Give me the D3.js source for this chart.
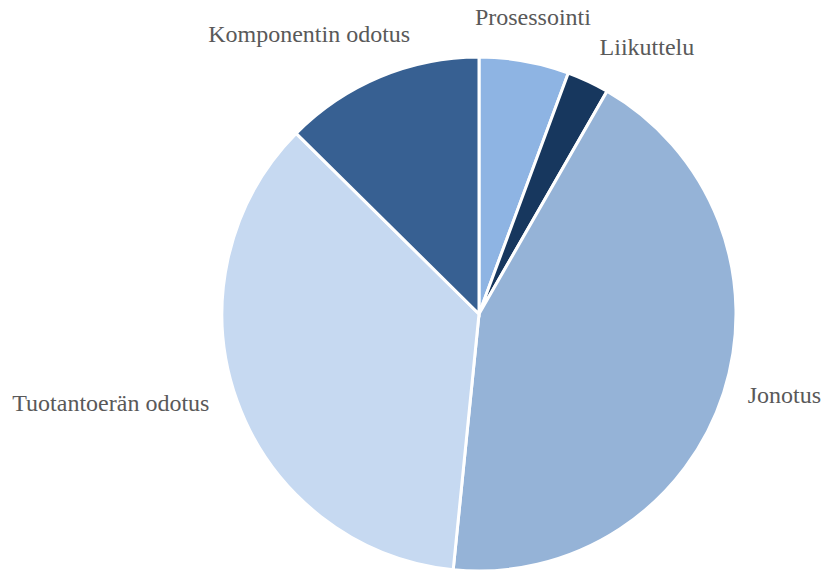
<!DOCTYPE html>
<html>
<head>
<meta charset="utf-8">
<script src="https://cdn.jsdelivr.net/npm/d3@7/dist/d3.min.js"></script>
<style>
  html, body { margin: 0; padding: 0; background: #ffffff; }
  svg { display: block; }
  .label { font-family: "Liberation Serif", "Times New Roman", Times, "DejaVu Serif", serif; }
</style>
</head>
<body>
<svg id="chart" width="824" height="571"></svg>
<script>
// Share of lead time by activity (%)
const categories = ["Prosessointi", "Liikuttelu", "Jonotus", "Tuotantoerän odotus", "Komponentin odotus"];
const values = [5.65, 2.65, 43.3, 35.8, 12.6];
const colors = ["#8EB4E3", "#17375E", "#95B3D7", "#C6D9F1", "#376092"];

const width = 824, height = 571;
const cx = 479, cy = 314, radius = 257;

// Fine adjustments of label placement, keyed by category
const labelNudge = {
  "Prosessointi": [5, -16],
  "Liikuttelu": [3, -8],
  "Jonotus": [5, 4],
  "Tuotantoerän odotus": [-9, 3],
  "Komponentin odotus": [38, -16]
};

const data = categories.map((c, i) => ({ name: c, value: values[i], color: colors[i] }));

const svg = d3.select("#chart");
const g = svg.append("g").attr("transform", `translate(${cx},${cy})`);

const pie = d3.pie().value(d => d.value).sort(null);
const arc = d3.arc().innerRadius(0).outerRadius(radius);
const arcs = pie(data);

g.selectAll("path.slice")
  .data(arcs)
  .join("path")
  .attr("class", "slice")
  .attr("d", arc)
  .attr("fill", d => d.data.color)
  .attr("stroke", "#ffffff")
  .attr("stroke-width", 3)
  .attr("stroke-linejoin", "miter");

const labelR = radius + 20;
g.selectAll("text.label")
  .data(arcs)
  .join("text")
  .attr("class", "label")
  .each(function(d) {
    const a = (d.startAngle + d.endAngle) / 2;
    const s = Math.sin(a);
    const x = labelR * s;
    const y = -labelR * Math.cos(a);
    const n = labelNudge[d.data.name] || [0, 0];
    const anchor = s > 0.3 ? "start" : (s < -0.3 ? "end" : "middle");
    d3.select(this)
      .attr("x", x + n[0])
      .attr("y", y + n[1])
      .attr("text-anchor", anchor);
  })
  .attr("font-size", 24)
  .attr("fill", "#595959")
  .text(d => d.data.name);
</script>
</body>
</html>
